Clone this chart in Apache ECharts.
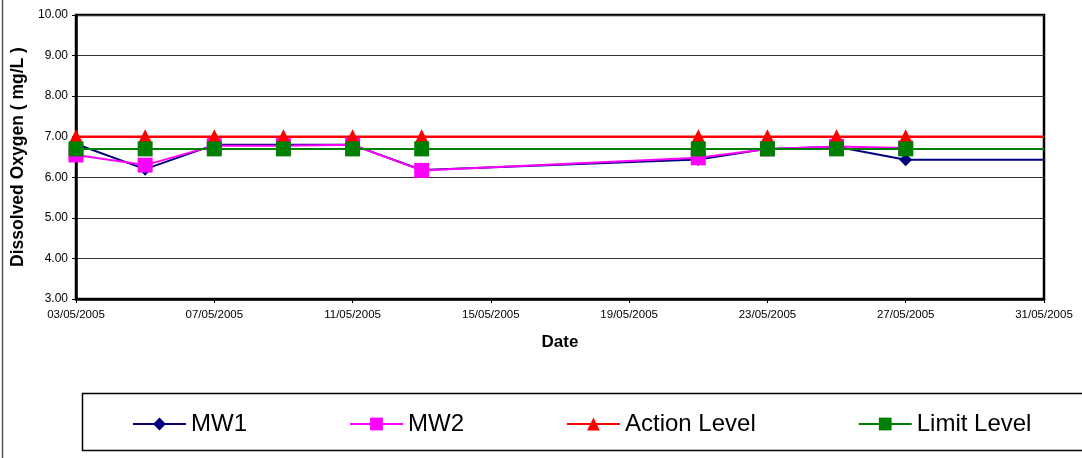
<!DOCTYPE html>
<html>
<head>
<meta charset="utf-8">
<script src="https://cdn.jsdelivr.net/npm/echarts@6/dist/echarts.min.js"></script>
<style>
  html, body { margin: 0; padding: 0; background: #fff; }
  #chart { width: 1082px; height: 458px; }
</style>
</head>
<body>
<div id="chart"></div>
<script>
// sample dates (dd/mm/yyyy), last one only carries the lines to the edge
const dates = ['03/05/2005', '05/05/2005', '07/05/2005', '09/05/2005', '11/05/2005',
  '13/05/2005', '21/05/2005', '23/05/2005', '25/05/2005', '27/05/2005', '31/05/2005']
const mw1 = [6.82, 6.2, 6.8, 6.8, 6.8, 6.18, 6.44, 6.7, 6.75, 6.43, 6.43]
const mw2 = [6.55, 6.3, 6.78, 6.78, 6.8, 6.17, 6.48, 6.7, 6.76, 6.72, null]
const actionLevel = [7.0, 7.0, 7.0, 7.0, 7.0, 7.0, 7.0, 7.0, 7.0, 7.0, 7.0]
const limitLevel = [6.7, 6.7, 6.7, 6.7, 6.7, 6.7, 6.7, 6.7, 6.7, 6.7, 6.7]

// x axis runs on day-of-month, labels are rebuilt as dates
const xMin = 3, xMax = 31, xStep = 4
const yMin = 3, yMax = 10, yStep = 1

const FONT = 'Liberation Sans, Arial, sans-serif'
const dayOf = d => parseInt(d.slice(0, 2), 10)
const pad = n => (n < 10 ? '0' + n : '' + n)

// last point has no marker (the line just runs on)
const toData = vals => vals.map((v, i) => {
  if (v == null) return null
  const item = { value: [dayOf(dates[i]), v] }
  if (i === dates.length - 1) item.symbol = 'none'
  return item
})

const makeSeries = (name, vals, color, symbol, size, width) => ({
  name,
  type: 'line',
  data: toData(vals),
  symbol,
  symbolSize: size,
  showAllSymbol: true,
  lineStyle: { color, width },
  itemStyle: { color, borderWidth: 0 },
  emphasis: { disabled: true }
})

const chart = echarts.init(document.getElementById('chart'))

chart.setOption({
  animation: false,
  textStyle: { fontFamily: FONT },
  grid: {
    left: 76, right: 38, top: 15, bottom: 159,
    show: true, borderColor: '#000', borderWidth: 2.5, backgroundColor: 'transparent'
  },
  xAxis: {
    type: 'value',
    min: xMin, max: xMax, interval: xStep,
    name: 'Date',
    nameLocation: 'middle',
    nameGap: 35,
    nameTextStyle: { fontFamily: FONT, fontWeight: 'bold', fontSize: 17, color: '#000' },
    axisLine: { show: true, lineStyle: { color: '#000', width: 2.5 } },
    axisTick: { show: true, length: 4, lineStyle: { color: '#000' } },
    axisLabel: {
      margin: 10, fontSize: 11.5, color: '#000', fontFamily: FONT,
      formatter: v => pad(v) + '/05/2005'
    },
    splitLine: { show: false }
  },
  yAxis: {
    type: 'value',
    min: yMin, max: yMax, interval: yStep,
    name: 'Dissolved Oxygen ( mg/L )',
    nameLocation: 'middle',
    nameGap: 47,
    nameTextStyle: { fontFamily: FONT, fontWeight: 'bold', fontSize: 17.5, color: '#000' },
    axisLine: { show: true, lineStyle: { color: '#000', width: 2.5 } },
    axisTick: { show: true, length: 4, lineStyle: { color: '#000' } },
    axisLabel: {
      margin: 8, fontSize: 12, color: '#000', fontFamily: FONT,
      formatter: v => v.toFixed(2)
    },
    splitLine: { show: true, lineStyle: { color: '#333', width: 1 } }
  },
  legend: {
    left: 127,
    top: 407,
    itemWidth: 53,
    itemHeight: 16,
    itemGap: 102,
    textStyle: { fontFamily: FONT, fontSize: 24, color: '#000' },
    data: ['MW1', 'MW2', 'Action Level', 'Limit Level']
  },
  graphic: [
    {
      type: 'rect', silent: true,
      shape: { x: 82.5, y: 393.5, width: 1100, height: 57 },
      style: { fill: 'none', stroke: '#000', lineWidth: 1.5 }
    },
    {
      type: 'line', silent: true,
      shape: { x1: 2.5, y1: 0, x2: 2.5, y2: 458 },
      style: { stroke: '#555', lineWidth: 1.5 }
    }
  ],
  series: [
    makeSeries('MW1', mw1, '#000080', 'diamond', 13, 2),
    makeSeries('MW2', mw2, '#ff00ff', 'rect', 15, 2),
    makeSeries('Action Level', actionLevel, '#ff0000', 'triangle', 15, 2.5),
    makeSeries('Limit Level', limitLevel, '#008000', 'rect', 15, 2)
  ]
})
</script>
</body>
</html>
